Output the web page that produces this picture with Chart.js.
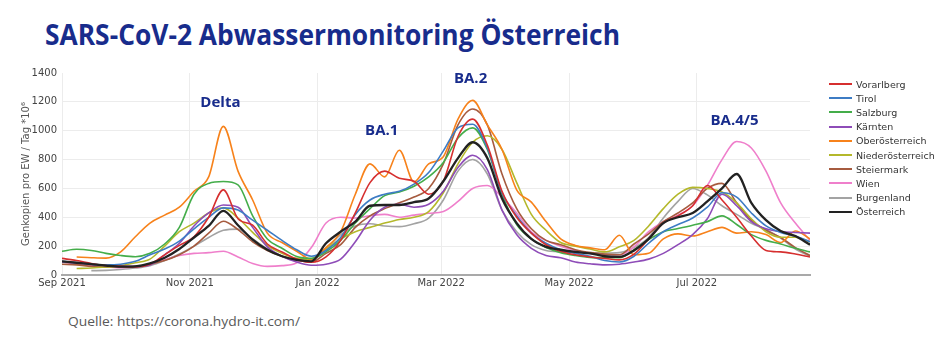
<!DOCTYPE html>
<html>
<head>
<meta charset="utf-8">
<script src="https://cdn.jsdelivr.net/npm/chart.js@4.4.1/dist/chart.umd.min.js"></script>
<style>
  html, body { margin: 0; padding: 0; background: #fff; }
  body { width: 945px; height: 341px; position: relative; overflow: hidden; font-family: "Open Sans", sans-serif; }
  #title { position: absolute; left: 45px; top: 15px; font-weight: 700; font-size: 28px; color: #182c8c; white-space: nowrap; transform-origin: left top; }
  #source { position: absolute; left: 68px; top: 312px; font-size: 13px; color: #595959; white-space: nowrap; transform-origin: left top; }
  #wrap { position: absolute; left: 0; top: 62px; width: 945px; height: 230px; }
  #legend { position: absolute; left: 829px; top: 77px; font-family: "DejaVu Sans", sans-serif; font-size: 9.5px; color: #333; }
  .item { height: 14.2px; display: flex; align-items: center; white-space: nowrap; }
  .swatch { width: 23px; height: 2px; margin-right: 4px; }
</style>
</head>
<body>
<div id="title">SARS-CoV-2 Abwassermonitoring Österreich</div>
<div id="wrap"><canvas id="chart" width="945" height="230"></canvas></div>
<div id="legend"></div>
<div id="source">Quelle: https://corona.hydro-it.com/</div>
<script>
// days since 1 Sep 2021, weekly samples
const days = [0, 7, 14, 21, 28, 35, 42, 49, 56, 63, 70, 77, 84, 91, 98, 105, 112, 119,
  126, 133, 140, 147, 154, 161, 168, 175, 182, 189, 196, 203, 210, 217, 224, 231,
  238, 245, 252, 259, 266, 273, 280, 287, 294, 301, 308, 315, 322, 329, 336, 343, 350, 357];

const monthDays = [0, 61, 122, 181, 242, 303];
const monthLabels = ['Sep 2021', 'Nov 2021', 'Jan 2022', 'Mar 2022', 'May 2022', 'Jul 2022'];

const vorarlberg = [115,100,80,65,60,55,75,140,205,265,400,590,390,345,215,160,110,88,
  125,240,430,640,720,670,650,560,650,960,1080,900,580,400,290,210,
  165,140,125,115,105,145,250,360,410,480,620,520,400,270,170,160,145,125];
const tirol = [95,85,75,70,75,95,140,180,235,320,400,465,450,380,310,240,175,130,
  170,260,420,520,560,580,630,710,860,1020,1045,880,570,410,290,220,
  175,150,130,100,90,130,220,300,350,395,470,570,540,430,340,295,270,230];
const salzburg = [165,178,170,150,135,127,150,215,330,560,635,648,625,410,250,185,128,115,
  160,240,360,460,550,575,615,680,780,950,1020,870,560,350,250,190,
  155,135,122,120,120,175,245,300,322,345,370,410,350,280,240,215,185,160];
const kaernten = [90,85,75,65,60,60,70,140,220,340,430,485,470,330,195,130,90,68,
  75,110,230,380,470,490,470,490,580,745,830,730,450,280,185,135,
  120,90,78,70,75,90,110,150,210,280,390,560,480,370,320,300,295,290];
const oberoesterreich = [null,125,120,117,160,265,360,415,470,580,680,1030,720,520,290,225,165,110,
  190,300,560,770,680,865,645,770,820,1080,1210,1040,870,590,505,370,
  250,205,188,175,275,140,150,250,285,270,300,330,290,300,280,225,305,250];
const niederoesterreich = [null,45,48,55,65,85,110,200,300,360,430,465,395,295,205,150,115,110,
  180,250,300,330,360,385,400,440,570,770,920,965,870,640,420,310,
  225,200,180,160,195,240,340,460,560,607,600,575,500,390,300,262,262,230];
const steiermark = [75,70,60,55,55,60,75,100,140,200,290,373,315,230,170,130,105,90,
  150,210,330,410,460,500,540,600,770,1040,1150,1040,700,460,320,240,
  210,175,155,145,140,215,285,370,430,500,600,635,500,380,310,260,190,135];
const wien = [90,75,65,55,50,55,75,105,135,150,155,165,125,80,60,65,85,190,
  360,400,395,410,420,400,415,428,440,510,600,620,540,430,300,240,
  200,170,150,140,140,195,300,370,415,480,620,800,925,880,720,500,360,240];
const burgenland = [null,null,30,32,38,48,65,100,145,200,260,310,318,250,180,130,100,110,
  180,280,340,355,340,335,355,395,520,720,800,700,450,300,210,170,
  160,158,155,152,155,190,260,395,510,600,555,480,420,359,315,255,180,130];
const oesterreich = [95,85,75,65,58,60,80,120,180,260,340,445,345,245,175,130,105,95,
  220,300,370,480,485,485,505,530,650,810,920,810,530,360,250,195,
  175,160,150,130,125,170,250,360,400,430,510,600,700,500,380,305,270,210];

const names = ['Vorarlberg', 'Tirol', 'Salzburg', 'Kärnten', 'Oberösterreich',
  'Niederösterreich', 'Steiermark', 'Wien', 'Burgenland', 'Österreich'];
const series = [vorarlberg, tirol, salzburg, kaernten, oberoesterreich,
  niederoesterreich, steiermark, wien, burgenland, oesterreich];
const colors = ['#d62f2f', '#3d7cc4', '#44ad4a', '#8e4cb8', '#f7821b',
  '#b4b82b', '#a65b3f', '#ef7fcb', '#a3a3a3', '#222222'];

const waveLabels = ['Delta', 'BA.1', 'BA.2', 'BA.4/5'];
const waveDays = [75.6, 152.6, 195, 321];
const waveValues = [1194, 1000, 1359, 1070];

const yTicks = [0, 200, 400, 600, 800, 1000, 1200, 1400];

// fit title / source widths to the reference
function fitWidth(id, w) {
  const el = document.getElementById(id);
  el.style.transform = 'scaleX(' + (w / el.getBoundingClientRect().width) + ')';
}
fitWidth('title', 575);
fitWidth('source', 232);

const legend = document.getElementById('legend');
names.forEach((n, i) => {
  const row = document.createElement('div');
  row.className = 'item';
  row.innerHTML = '<span class="swatch" style="background:' + colors[i] + '"></span>' + n;
  legend.appendChild(row);
});

const datasets = names.map((n, i) => ({
  label: n,
  data: days.map((d, j) => ({ x: d, y: series[i][j] })).filter(p => p.y !== null),
  borderColor: colors[i],
  backgroundColor: colors[i],
  borderWidth: i === 9 ? 2.3 : 1.6,
  pointRadius: 0,
  cubicInterpolationMode: 'monotone',
  order: i === 9 ? 0 : 1
}));

const wavePlugin = {
  id: 'waveLabels',
  afterDatasetsDraw(chart) {
    const { ctx, scales: { x, y } } = chart;
    ctx.save();
    ctx.font = 'bold 15px "Open Sans"';
    ctx.fillStyle = '#182c8c';
    ctx.textAlign = 'center';
    ctx.textBaseline = 'middle';
    waveLabels.forEach((t, i) => {
      ctx.fillText(t, x.getPixelForValue(waveDays[i]), y.getPixelForValue(waveValues[i]));
    });
    ctx.restore();
  }
};

const tickFont = { family: "'DejaVu Sans', sans-serif", size: 10 };

new Chart(document.getElementById('chart'), {
  type: 'line',
  data: { datasets },
  plugins: [wavePlugin],
  options: {
    responsive: false,
    animation: false,
    devicePixelRatio: 1,
    layout: { padding: { top: 10, right: 135, left: 0, bottom: 0 } },
    plugins: { legend: { display: false }, tooltip: { enabled: false } },
    scales: {
      x: {
        type: 'linear',
        min: 0,
        max: 357,
        afterBuildTicks: s => { s.ticks = monthDays.map(v => ({ value: v })); },
        afterFit: s => { s.height = 17; },
        ticks: {
          autoSkip: false,
          maxRotation: 0,
          padding: 2,
          color: '#444',
          font: tickFont,
          callback: v => monthLabels[monthDays.indexOf(v)]
        },
        grid: { color: '#ececec', drawTicks: false },
        border: { display: true, color: '#a9a9a9', width: 2 }
      },
      y: {
        min: 0,
        max: 1400,
        afterBuildTicks: s => { s.ticks = yTicks.map(v => ({ value: v })); },
        afterFit: s => { s.width = 62; },
        ticks: { padding: 5, color: '#444', font: tickFont, callback: v => String(v) },
        grid: {
          drawTicks: false,
          color: c => (c.tick && c.tick.value === 1400) ? 'rgba(0,0,0,0)' : '#ececec'
        },
        border: { display: false },
        title: {
          display: true,
          text: 'Genkopien pro EW / Tag *10⁶',
          color: '#555',
          font: { family: "'DejaVu Sans', sans-serif", size: 10 },
          padding: { top: 20, bottom: 0 }
        }
      }
    }
  }
});
</script>
</body>
</html>
